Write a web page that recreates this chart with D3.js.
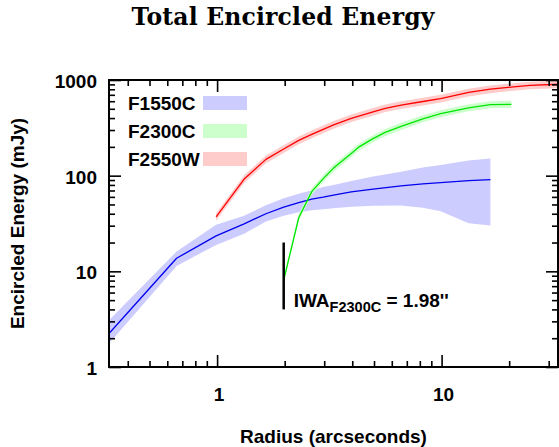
<!DOCTYPE html>
<html>
<head>
<meta charset="utf-8">
<script src="https://cdn.jsdelivr.net/npm/d3@7"></script>
<style>
  body { margin: 0; background: #fff; }
  svg { display: block; }
  text { font-family: "Liberation Sans", Arial, sans-serif; font-weight: bold; fill: #000; }
</style>
</head>
<body>
<svg id="chart" width="559" height="447"></svg>
<script>
// Encircled energy curves (radius in arcsec, energy in mJy) with their uncertainty bands
const f1550Radius = [0.33, 0.66, 0.99, 1.32, 1.65, 1.98, 2.31, 2.64, 2.97, 3.3, 3.96, 4.95, 6.6, 8.25, 9.9, 13.2, 16.5];
const f1550Value  = [2.24, 13.7, 23.5, 31.4, 40.0, 46.8, 52.2, 56.8, 59.6, 62.6, 67.6, 72.3, 78.2, 82.0, 84.7, 88.8, 91.0];
const f1550High   = [3.09, 16.1, 30.7, 38.1, 49.2, 58.2, 64.9, 70.6, 75.9, 79.7, 87.8, 97.9, 110, 122, 129, 144, 151];
const f1550Low    = [1.76, 11.4, 18.9, 24.7, 33.2, 38.1, 41.5, 43.6, 44.6, 45.7, 47.4, 48.6, 48.9, 46.3, 42.5, 31.8, 30.2];

const f2300Radius = [1.98, 2.31, 2.64, 2.97, 3.3, 3.96, 4.29, 4.95, 5.61, 6.6, 8.25, 9.9, 13.2, 16.5, 20.46];
const f2300Value  = [8.1, 36.3, 68.1, 93.2, 120, 171, 200, 244, 283, 328, 393, 445, 512, 553, 557];
const f2300High   = [8.8, 39.5, 74, 101, 131, 186, 217, 265, 307, 357, 427, 484, 557, 601, 606];
const f2300Low    = [7.5, 33.5, 63, 86, 110, 157, 183, 224, 259, 301, 361, 409, 471, 508, 512];

const f2550Radius = [0.99, 1.32, 1.65, 1.98, 2.31, 2.64, 2.97, 3.3, 3.96, 4.95, 5.61, 6.6, 8.25, 9.9, 13.2, 16.5, 19.8, 24.75, 33];
const f2550Value  = [37.0, 92.1, 148, 190, 234, 270, 305, 340, 398, 465, 506, 547, 596, 640, 741, 801, 836, 878, 903];
const f2550High   = [40.5, 101, 162, 208, 256, 296, 334, 372, 436, 509, 554, 599, 653, 701, 811, 877, 915, 961, 989];
const f2550Low    = [33.8, 84, 135, 173, 213, 246, 278, 310, 363, 424, 462, 499, 542, 582, 674, 729, 761, 799, 822];

const filterNames = ["F1550C", "F2300C", "F2550W"];
const lineColors  = ["#0000ee", "#00e600", "#ff0000"];
const bandColors  = ["#ccccff", "#ccffcc", "#ffcccc"];

// Inner working angle marker for F2300C
const iwaRadius = 1.98;
const iwaSpan = [4, 20];

const xDomain = [0.33, 33];
const yDomain = [1, 1000];
const xMajor = [1, 10];
const xMinor = [0.4, 0.5, 0.6, 0.7, 0.8, 0.9, 2, 3, 4, 5, 6, 7, 8, 9, 20, 30];
const yMajor = [1, 10, 100, 1000];
const yMinor = [2, 3, 4, 5, 6, 7, 8, 9, 20, 30, 40, 50, 60, 70, 80, 90, 200, 300, 400, 500, 600, 700, 800, 900];

const svg = d3.select("#chart");
const plot = { left: 109, right: 558, top: 80, bottom: 367 };

const x = d3.scaleLog().domain(xDomain).range([plot.left, plot.right]);
const y = d3.scaleLog().domain(yDomain).range([plot.bottom, plot.top]);

const series = [
  { r: f1550Radius, v: f1550Value, lo: f1550Low, hi: f1550High },
  { r: f2300Radius, v: f2300Value, lo: f2300Low, hi: f2300High },
  { r: f2550Radius, v: f2550Value, lo: f2550Low, hi: f2550High }
].map((s, i) => ({
  name: filterNames[i],
  pts: s.r.map((r, j) => ({ r, v: s.v[j], lo: s.lo[j], hi: s.hi[j] }))
}));

svg.append("defs").append("clipPath").attr("id", "plotClip")
  .append("rect")
  .attr("x", plot.left).attr("y", plot.top)
  .attr("width", plot.right - plot.left).attr("height", plot.bottom - plot.top);

const body = svg.append("g").attr("clip-path", "url(#plotClip)");

const area = d3.area().x(d => x(d.r)).y0(d => y(d.lo)).y1(d => y(d.hi));
const line = d3.line().x(d => x(d.r)).y(d => y(d.v));

series.forEach((s, i) => {
  body.append("path").attr("d", area(s.pts)).attr("fill", bandColors[i]);
});
series.forEach((s, i) => {
  body.append("path").attr("d", line(s.pts))
    .attr("fill", "none").attr("stroke", lineColors[i]).attr("stroke-width", 1.3)
    .attr("stroke-linejoin", "round");
});

// Axes: ticks point inward on all four sides
function addAxis(axisFn, scale, values, size, transform, labels) {
  const ax = axisFn(scale).tickValues(values).tickSize(-size)
    .tickPadding(labels ? 12 : 0)
    .tickFormat(labels ? d3.format("d") : () => "");
  const g = svg.append("g").attr("transform", transform).call(ax);
  g.select(".domain").remove();
  g.selectAll(".tick line").attr("stroke", "#000").attr("stroke-width", 1.6);
  g.selectAll(".tick text").style("font-size", "19px")
    .attr("font-family", "Liberation Sans, Arial, sans-serif").attr("font-weight", "bold").attr("fill", "#000");
  return g;
}

const gx = addAxis(d3.axisBottom, x, xMajor, 12, `translate(0,${plot.bottom})`, true);
gx.selectAll(".tick text").attr("y", 21).attr("dx", 1.5);
addAxis(d3.axisBottom, x, xMinor, 6, `translate(0,${plot.bottom})`, false);
addAxis(d3.axisTop, x, xMajor, 12, `translate(0,${plot.top})`, false);
addAxis(d3.axisTop, x, xMinor, 6, `translate(0,${plot.top})`, false);

const gy = addAxis(d3.axisLeft, y, yMajor, 12, `translate(${plot.left},0)`, true);
gy.selectAll(".tick text").attr("dy", "0.4em");
addAxis(d3.axisLeft, y, yMinor, 6, `translate(${plot.left},0)`, false);
addAxis(d3.axisRight, y, yMajor, 12, `translate(${plot.right},0)`, false);
addAxis(d3.axisRight, y, yMinor, 6, `translate(${plot.right},0)`, false);

// Frame
svg.append("rect")
  .attr("x", plot.left).attr("y", plot.top)
  .attr("width", plot.right - plot.left).attr("height", plot.bottom - plot.top)
  .attr("fill", "none").attr("stroke", "#000").attr("stroke-width", 2);

// Inner working angle marker and label
svg.append("line")
  .attr("x1", x(iwaRadius)).attr("x2", x(iwaRadius))
  .attr("y1", y(iwaSpan[0])).attr("y2", y(iwaSpan[1]))
  .attr("stroke", "#000").attr("stroke-width", 2.5);

const iwaText = svg.append("text")
  .attr("x", x(iwaRadius) + 10).attr("y", y(iwaSpan[0]) - 2.7)
  .style("font-size", "19px");
iwaText.append("tspan").text("IWA");
iwaText.append("tspan").attr("dy", 5).style("font-size", "14.5px").text("F2300C");
iwaText.append("tspan").attr("dy", -5).text(" = 1.98''");

// Legend
const legend = svg.append("g");
filterNames.forEach((name, i) => {
  const cy = 103 + i * 28;
  legend.append("text").attr("x", 128).attr("y", cy + 7)
    .style("font-size", "19px").text(name);
  legend.append("rect").attr("x", 203).attr("y", cy - 7)
    .attr("width", 44).attr("height", 14).attr("fill", bandColors[i]);
});

// Titles
svg.append("text")
  .attr("x", 283).attr("y", 25).attr("text-anchor", "middle")
  .attr("textLength", 303)
  .style("font-family", "'DejaVu Serif', 'Liberation Serif', serif")
  .style("font-size", "23.5px")
  .text("Total Encircled Energy");

svg.append("text")
  .attr("x", (plot.left + plot.right) / 2).attr("y", 443).attr("text-anchor", "middle")
  .style("font-size", "19px")
  .text("Radius (arcseconds)");

svg.append("text")
  .attr("transform", `translate(24,${(plot.top + plot.bottom) / 2}) rotate(-90)`)
  .attr("text-anchor", "middle")
  .style("font-size", "19px")
  .text("Encircled Energy (mJy)");
</script>
</body>
</html>
